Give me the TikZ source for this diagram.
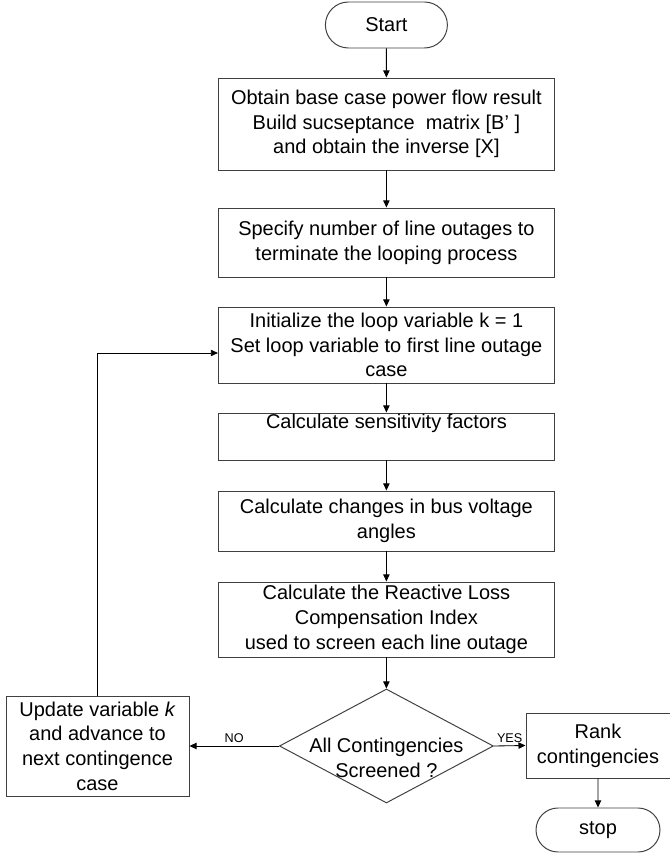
\documentclass[tikz,border=0pt]{standalone}
\usepackage{fontspec}
\setmainfont{Liberation Sans}
\usetikzlibrary{shapes.geometric,shapes.misc,arrows.meta}

\begin{document}
\begin{tikzpicture}[
    caja/.style={draw=black!75,line width=0.7pt,align=center,inner sep=0pt,
      minimum width=8.4cm,font=\fontsize{14.2}{17.6}\selectfont},
    inicio/.style={draw=black!75,line width=0.7pt,rounded rectangle,inner sep=0pt,
      font=\fontsize{14.2}{17.6}\selectfont},
    flecha/.style={-{Triangle[length=5pt,width=4.5pt]},line width=0.6pt},
    etiqueta/.style={font=\fontsize{9}{11}\selectfont,inner sep=2pt}
  ]
    \useasboundingbox (0,0) rectangle (16.75,21.325);
    % Cajas
    \node[inicio,minimum width=3.05cm,minimum height=1.15cm] (start) at (9.66,20.7) {Start};
    \node[caja,minimum height=2.3cm] (base) at (9.66,18.225)
      {Obtain base case power flow result\\Build sucseptance\ \ matrix [B' ]\\and obtain the inverse [X]};
    \node[caja,minimum height=1.725cm] (limit) at (9.66,15.2625)
      {Specify number of line outages to\\terminate the looping process};
    \node[caja,minimum height=1.9cm] (init) at (9.66,12.7)
      {Initialize the loop variable k = 1\\Set loop variable to first line outage\\case};
    \node[caja,minimum height=1.175cm,text depth=0.75cm] (sens) at (9.66,10.4125)
      {Calculate sensitivity factors};
    \node[caja,minimum height=1.5cm] (angles) at (9.66,8.3)
      {Calculate changes in bus voltage\\angles};
    \node[caja,minimum height=1.875cm] (index) at (9.66,5.8375)
      {Calculate the Reactive Loss\\Compensation Index\\used to screen each line outage};
    % Decision
    \node[draw=black!75,line width=0.7pt,diamond,inner sep=0pt,minimum width=5.35cm,
      minimum height=2.85cm,label={[align=center,yshift=-0.3cm,
      font=\fontsize{14.2}{17.6}\selectfont]center:All Contingencies\\Screened ?}]
      (check) at (9.66,2.675) {};
    \node[caja,minimum width=4.575cm,minimum height=2.5cm] (update) at (2.4375,2.675)
      {Update variable \textit{k}\\and advance to\\next contingence\\case};
    \node[caja,minimum width=3.6cm,minimum height=1.625cm] (rank) at (14.95,2.6875)
      {Rank\\contingencies};
    \node[inicio,minimum width=3.1cm,minimum height=1.1cm] (stop) at (14.95,0.575) {stop};
    % Flechas
    \draw[flecha] (start) -- (base);
    \draw[flecha] (base) -- (limit);
    \draw[flecha] (limit) -- (init);
    \draw[flecha] (init) -- (sens);
    \draw[flecha] (sens) -- (angles);
    \draw[flecha] (angles) -- (index);
    \draw[flecha] (index) -- (check);
    \draw[flecha] (check.west) -- node[etiqueta,above] {NO} (update.east);
    \draw[flecha] (check.east) -- node[etiqueta,above] {YES} (rank.west);
    \draw[flecha] (rank) -- (stop);
    \draw[flecha] (update.north) |- ([yshift=-0.2cm]init.west);
  \end{tikzpicture}
\end{document}
